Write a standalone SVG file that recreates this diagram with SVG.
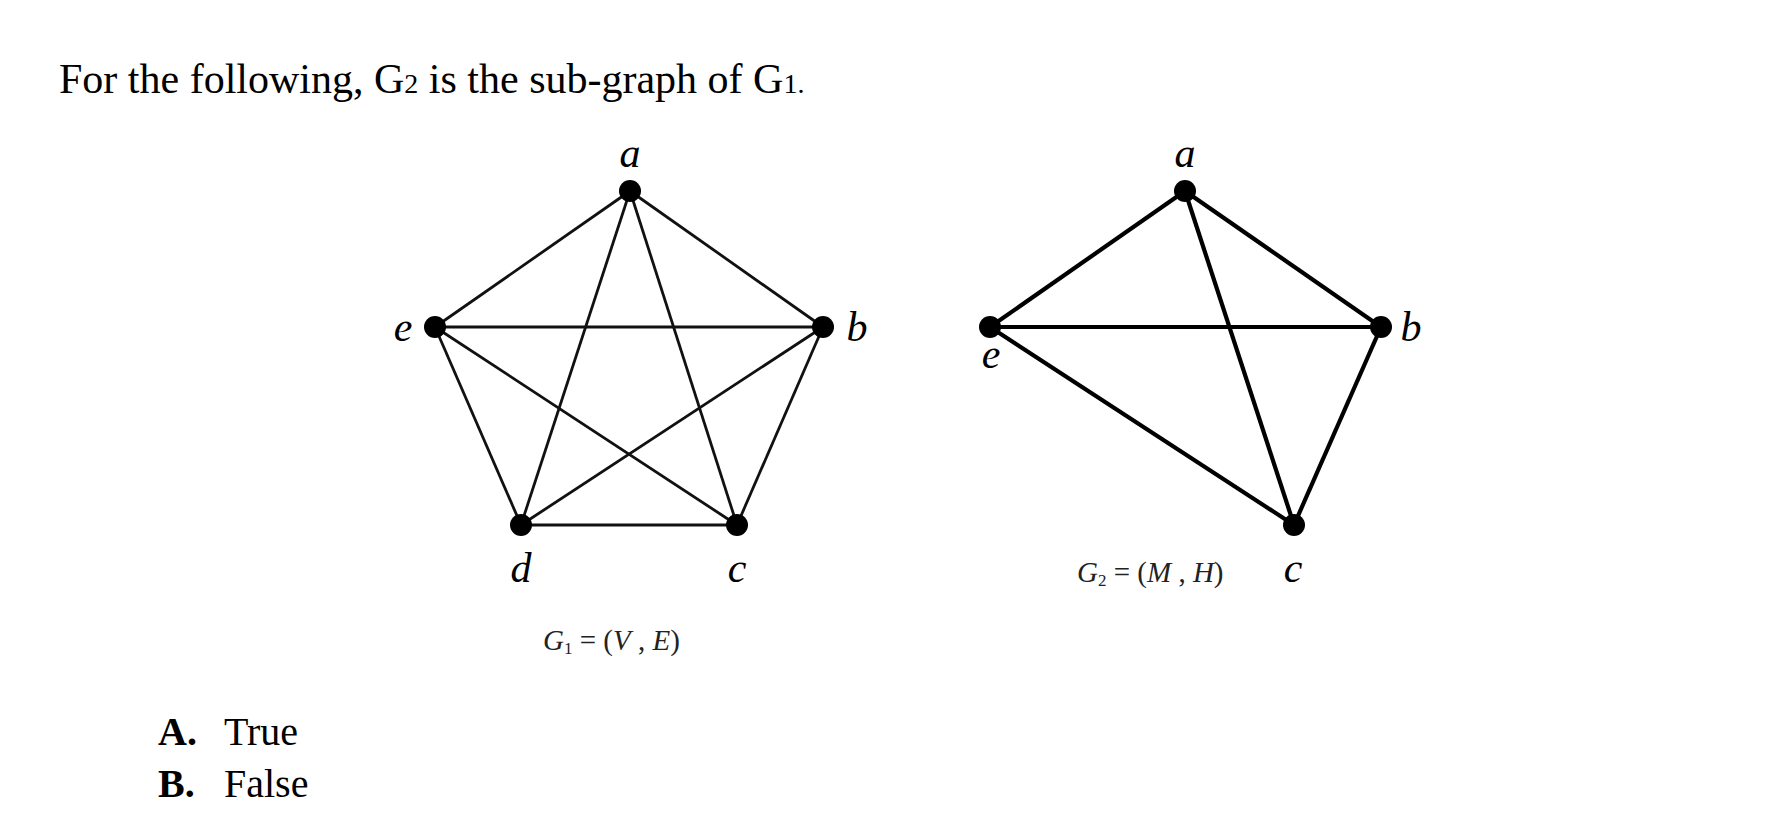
<svg xmlns="http://www.w3.org/2000/svg" width="1784" height="822" viewBox="0 0 1784 822">
<style>
  .txt{font-family:"Liberation Serif","Times New Roman",serif;fill:#000}
  .lbl{font-family:"Liberation Serif","Times New Roman",serif;font-style:italic;font-size:42px;fill:#000}
  .eq{font-family:"Liberation Serif","Times New Roman",serif;font-size:29px;fill:#222}
  .e1{stroke:#111;stroke-width:2.8;fill:none}
  .e2{stroke:#000;stroke-width:4.2;fill:none}
  .dot{fill:#000}
</style>
<rect width="1784" height="822" fill="#fff"/>
<text class="txt" x="59" y="93" font-size="42">For the following, G<tspan font-size="28">2</tspan> is the sub-graph of G<tspan font-size="28">1.</tspan></text>

<g id="connectors-g1">
  <line class="e1" x1="630" y1="191" x2="435" y2="327"/>
  <line class="e1" x1="630" y1="191" x2="823" y2="327"/>
  <line class="e1" x1="630" y1="191" x2="521" y2="525"/>
  <line class="e1" x1="630" y1="191" x2="737" y2="525"/>
  <line class="e1" x1="435" y1="327" x2="823" y2="327"/>
  <line class="e1" x1="435" y1="327" x2="521" y2="525"/>
  <line class="e1" x1="435" y1="327" x2="737" y2="525"/>
  <line class="e1" x1="823" y1="327" x2="521" y2="525"/>
  <line class="e1" x1="823" y1="327" x2="737" y2="525"/>
  <line class="e1" x1="521" y1="525" x2="737" y2="525"/>
</g>
<g id="g1-a"><circle class="dot" cx="630" cy="191" r="11"/><text class="lbl" x="630" y="167" text-anchor="middle">a</text></g>
<g id="g1-b"><circle class="dot" cx="823" cy="327" r="11"/><text class="lbl" x="857" y="341" text-anchor="middle">b</text></g>
<g id="g1-c"><circle class="dot" cx="737" cy="525" r="11"/><text class="lbl" x="737" y="582" text-anchor="middle">c</text></g>
<g id="g1-d"><circle class="dot" cx="521" cy="525" r="11"/><text class="lbl" x="521" y="582" text-anchor="middle">d</text></g>
<g id="g1-e"><circle class="dot" cx="435" cy="327" r="11"/><text class="lbl" x="403" y="341" text-anchor="middle">e</text></g>
<text class="eq" x="543" y="650"><tspan font-style="italic">G</tspan><tspan font-size="17" dy="4">1</tspan><tspan dy="-4"> = (</tspan><tspan font-style="italic">V</tspan><tspan> , </tspan><tspan font-style="italic">E</tspan><tspan>)</tspan></text>

<g id="connectors-g2">
  <line class="e2" x1="1185" y1="191" x2="990" y2="327"/>
  <line class="e2" x1="1185" y1="191" x2="1381" y2="327"/>
  <line class="e2" x1="1185" y1="191" x2="1294" y2="525"/>
  <line class="e2" x1="990" y1="327" x2="1381" y2="327"/>
  <line class="e2" x1="990" y1="327" x2="1294" y2="525"/>
  <line class="e2" x1="1381" y1="327" x2="1294" y2="525"/>
</g>
<g id="g2-a"><circle class="dot" cx="1185" cy="191" r="11"/><text class="lbl" x="1185" y="167" text-anchor="middle">a</text></g>
<g id="g2-b"><circle class="dot" cx="1381" cy="327" r="11"/><text class="lbl" x="1411" y="341" text-anchor="middle">b</text></g>
<g id="g2-c"><circle class="dot" cx="1294" cy="525" r="11"/><text class="lbl" x="1293" y="582" text-anchor="middle">c</text></g>
<g id="g2-e"><circle class="dot" cx="990" cy="327" r="11"/><text class="lbl" x="991" y="368" text-anchor="middle">e</text></g>
<text class="eq" x="1077" y="582"><tspan font-style="italic">G</tspan><tspan font-size="17" dy="4">2</tspan><tspan dy="-4"> = (</tspan><tspan font-style="italic">M</tspan><tspan> , </tspan><tspan font-style="italic">H</tspan><tspan>)</tspan></text>

<text class="txt" x="158" y="745" font-size="40"><tspan font-weight="bold">A.</tspan><tspan x="224">True</tspan></text>
<text class="txt" x="158" y="797" font-size="40"><tspan font-weight="bold">B.</tspan><tspan x="224">False</tspan></text>
</svg>
